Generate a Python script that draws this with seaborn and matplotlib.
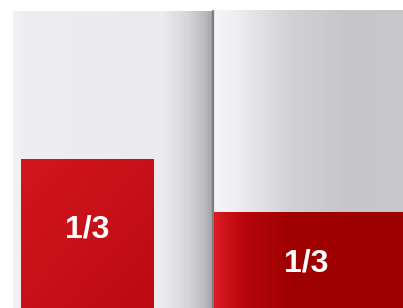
import numpy as np
import matplotlib
matplotlib.use("Agg")
from matplotlib import pyplot as plt
from matplotlib.colors import LinearSegmentedColormap
import seaborn as sns

# data: two facing pages, each with a one-third ad block
pages = ["left", "right"]
ad_labels = ["1/3", "1/3"]
ad_share = [1 / 3, 1 / 3]

sns.set_theme(style="white")
plt.rcParams["font.family"] = ["Liberation Sans", "DejaVu Sans"]

W, H = 403, 308
fig = plt.figure(figsize=(W / 100, H / 100), dpi=100)
ax = fig.add_axes([0, 0, 1, 1])
ax.set_xlim(0, W)
ax.set_ylim(H, 0)
ax.axis("off")
fig.patch.set_facecolor("white")


def c(h):
    h = h.lstrip("#")
    return [int(h[i:i + 2], 16) / 255 for i in (0, 2, 4)]


def hgrad(x0, x1, y0, y1, stops, xs, zorder=1):
    # horizontal gradient painted with imshow
    n = int(x1 - x0) * 2
    t = np.linspace(0, 1, n)
    cols = np.array([np.interp(t, xs, [c(s)[i] for s in stops]) for i in range(3)]).T
    img = np.tile(cols[None, :, :], (4, 1, 1))
    ax.imshow(img, extent=(x0, x1, y1, y0), aspect="auto", zorder=zorder,
              interpolation="bilinear")


# left page
hgrad(13, 212, 11, H,
      ["#f4f4f6", "#eeeef0", "#ebebee", "#d6d6da", "#b8b8bd", "#a4a4aa"],
      [0, 0.05, 0.75, 0.88, 0.97, 1.0])
# spine
ax.plot([212.5, 212.5], [11, H], color="#7c7c82", lw=1.6, zorder=3)
# right page
hgrad(214, W, 10, H,
      ["#f6f6f8", "#eeeef1", "#d2d2d6", "#c6c6ca", "#c8c8cc"],
      [0, 0.12, 0.4, 0.7, 1.0])

# ad blocks
left_x0, left_w = 21, 133
left_h = (H - 11) * ad_share[0] * 1.5
right_h = (H - 20) * ad_share[1]

# left block: subtle diagonal shading
yy, xx = np.mgrid[0:1:60j, 0:1:60j]
shade = 0.5 * yy + 0.5 * xx
cm_left = LinearSegmentedColormap.from_list("lred", ["#d2161d", "#bc0a12"])
ax.imshow(shade, cmap=cm_left, extent=(left_x0, left_x0 + left_w, H, H - left_h),
          aspect="auto", zorder=4, interpolation="bilinear")

# right block: horizontal gradient
hgrad(214, W, H - right_h, H,
      ["#dc1c24", "#b8060c", "#a00002", "#9c0000"],
      [0, 0.15, 0.4, 1.0], zorder=4)

centers = [(left_x0 + left_w / 2, H - left_h / 2 - 4), ((214 + W) / 2 - 2, H - right_h / 2 + 3)]
for (cx, cy), lab in zip(centers, ad_labels):
    ax.text(cx, cy, lab, color="white", fontsize=23, fontweight="bold",
            ha="center", va="center", zorder=5)

fig.savefig("out.png", dpi=100)
